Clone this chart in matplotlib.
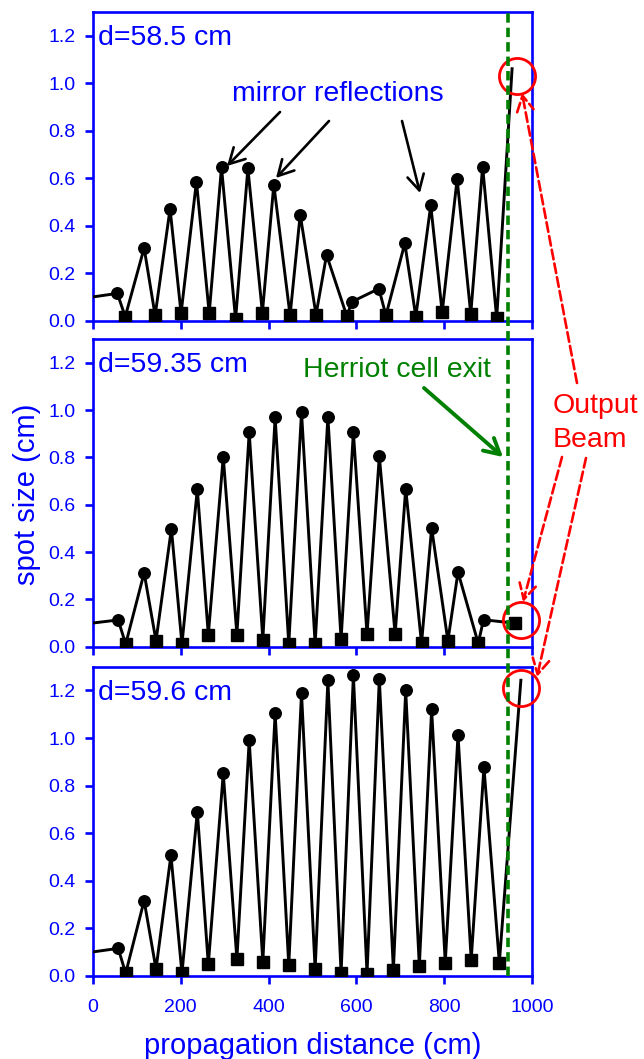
import matplotlib
matplotlib.use("Agg")
import matplotlib.pyplot as plt
from matplotlib.lines import Line2D
from matplotlib.patches import FancyArrowPatch
from matplotlib.transforms import blended_transform_factory

plt.rcParams['font.family'] = ['Liberation Sans', 'DejaVu Sans']

BLUE = '#0000ff'
GREEN = '#008000'
RED = '#ff0000'

labels = ["d=58.5 cm", "d=59.35 cm", "d=59.6 cm"]

# d = 58.5 cm
c1_x = [56, 117, 176, 236, 293, 353, 412, 472, 532, 590, 651, 710, 769, 829, 887]
c1_y = [0.115, 0.306, 0.471, 0.586, 0.646, 0.641, 0.573, 0.447, 0.277, 0.080,
        0.135, 0.326, 0.486, 0.597, 0.649]
s1_x = [74, 142, 201, 265, 325, 386, 449, 508, 578, 667, 735, 795, 860, 919]
s1_y = [0.017, 0.022, 0.031, 0.031, 0.006, 0.034, 0.022, 0.025, 0.020, 0.022,
        0.017, 0.035, 0.028, 0.010]
end1 = (954, 1.061)

# d = 59.35 cm
c2_x = [58, 117, 179, 238, 297, 356, 415, 475, 535, 593, 652, 712, 771, 831, 889]
c2_y = [0.113, 0.312, 0.498, 0.665, 0.802, 0.906, 0.969, 0.991, 0.971, 0.906,
        0.805, 0.668, 0.501, 0.315, 0.114]
s2_x = [75, 144, 203, 263, 328, 387, 446, 506, 565, 624, 688, 748, 808, 877, 961]
s2_y = [0.011, 0.025, 0.011, 0.051, 0.051, 0.030, 0.011, 0.011, 0.031, 0.052,
        0.052, 0.014, 0.025, 0.014, 0.099]
end2 = None

# d = 59.6 cm
c3_x = [58, 117, 178, 238, 297, 356, 415, 475, 535, 593, 652, 712, 771, 831, 890]
c3_y = [0.115, 0.316, 0.507, 0.690, 0.851, 0.990, 1.104, 1.189, 1.242, 1.263,
        1.249, 1.200, 1.120, 1.013, 0.877]
s3_x = [75, 144, 203, 263, 328, 387, 446, 506, 565, 624, 684, 743, 802, 861, 925]
s3_y = [0.010, 0.028, 0.010, 0.048, 0.070, 0.058, 0.044, 0.027, 0.010, 0.008,
        0.024, 0.041, 0.055, 0.067, 0.055]
end3 = (974, 1.243)

start = (0, 0.10)
exit_x = 945
# output beam circles (x, y) per panel
out_beam = [(966, 1.031), (974, 0.113), (974, 1.211)]

panels = [(c1_x, c1_y, s1_x, s1_y, end1),
          (c2_x, c2_y, s2_x, s2_y, end2),
          (c3_x, c3_y, s3_x, s3_y, end3)]

W, H = 644, 1059
fig = plt.figure(figsize=(W / 100, H / 100), dpi=100)

def fp(x, y):
    # pixel position (from top-left) -> figure fraction
    return (x / W, 1 - y / H)

left, width = 92.7 / W, 439.6 / W
frames = [(12, 320.7), (339, 646.7), (666.7, 975.7)]
axes = []
for (top, bot) in frames:
    ax = fig.add_axes([left, 1 - bot / H, width, (bot - top) / H])
    axes.append(ax)

for i, (ax, (cx, cy, sx, sy, end)) in enumerate(zip(axes, panels)):
    pts = sorted(list(zip(cx, cy)) + list(zip(sx, sy)))
    pts = [start] + pts
    if end is not None:
        pts.append(end)
    ax.plot([p[0] for p in pts], [p[1] for p in pts], color='black', lw=2.1,
            zorder=3)
    ax.plot(cx, cy, 'o', color='black', ms=8.3, zorder=4)
    ax.plot(sx, sy, 's', color='black', ms=8.0, zorder=4)
    ax.plot(*out_beam[i], 'o', mfc='none', mec=RED, ms=26, mew=2.0,
            clip_on=False, zorder=5)

    ax.set_xlim(0, 1000)
    ax.set_ylim(0, 1.3)
    ax.set_xticks(range(0, 1001, 200))
    ax.set_yticks([0, 0.2, 0.4, 0.6, 0.8, 1.0, 1.2])
    ax.set_yticklabels(['%.1f' % v for v in ax.get_yticks()])
    for s in ax.spines.values():
        s.set_color(BLUE)
        s.set_linewidth(1.9)
    ax.tick_params(colors=BLUE, labelcolor=BLUE, width=1.9, length=5.5,
                   labelsize=14, direction='out')
    ax.tick_params(axis='y', pad=7)
    ax.tick_params(axis='x', pad=11)
    if i < 2:
        ax.tick_params(axis='x', labelbottom=False)
    ax.text(0.012, 0.893, labels[i], transform=ax.transAxes, color=BLUE,
            fontsize=20.5, va='baseline', ha='left')

axes[2].set_xlabel('propagation distance (cm)', color=BLUE, fontsize=21,
                   labelpad=12)
fig.text(27 / W, fp(0, 494)[1], 'spot size (cm)', color=BLUE, fontsize=21,
         rotation=90, ha='center', va='center')

# Herriot cell exit line through all three panels
trans = blended_transform_factory(axes[0].transData, fig.transFigure)
fig.add_artist(Line2D([exit_x, exit_x], [1 - 976 / H, 1 - 10 / H],
                      transform=trans, color=GREEN, lw=2.6,
                      ls=(0, (2.6, 1.4)), zorder=6))

# annotations
axes[0].text(318, 0.927, 'mirror reflections', color=BLUE, fontsize=20.5,
             ha='left', va='baseline')
axes[1].text(479, 1.14, 'Herriot cell exit', color=GREEN, fontsize=20.5,
             ha='left', va='baseline')
fig.text(*fp(553, 413), 'Output', color=RED, fontsize=20.5, va='baseline')
fig.text(*fp(553, 447), 'Beam', color=RED, fontsize=20.5, va='baseline')

def arrow(p0, p1, color, lw, ls='-'):
    a = FancyArrowPatch(fp(*p0), fp(*p1), transform=fig.transFigure,
                        arrowstyle='->,head_length=0.55,head_width=0.3',
                        mutation_scale=20, color=color, lw=lw, ls=ls,
                        shrinkA=0, shrinkB=0, zorder=7)
    fig.add_artist(a)

arrow((280, 112), (227, 166), 'black', 1.9)
arrow((329, 121), (276, 178), 'black', 1.9)
arrow((402, 121), (420, 193), 'black', 1.9)
arrow((424, 388), (503, 457), GREEN, 2.8)
arrow((577, 383), (522, 93), RED, 1.9, '--')
arrow((562, 457), (523, 602), RED, 1.9, '--')
arrow((586, 458), (537, 677), RED, 1.9, '--')

fig.savefig('out.png', dpi=100)
